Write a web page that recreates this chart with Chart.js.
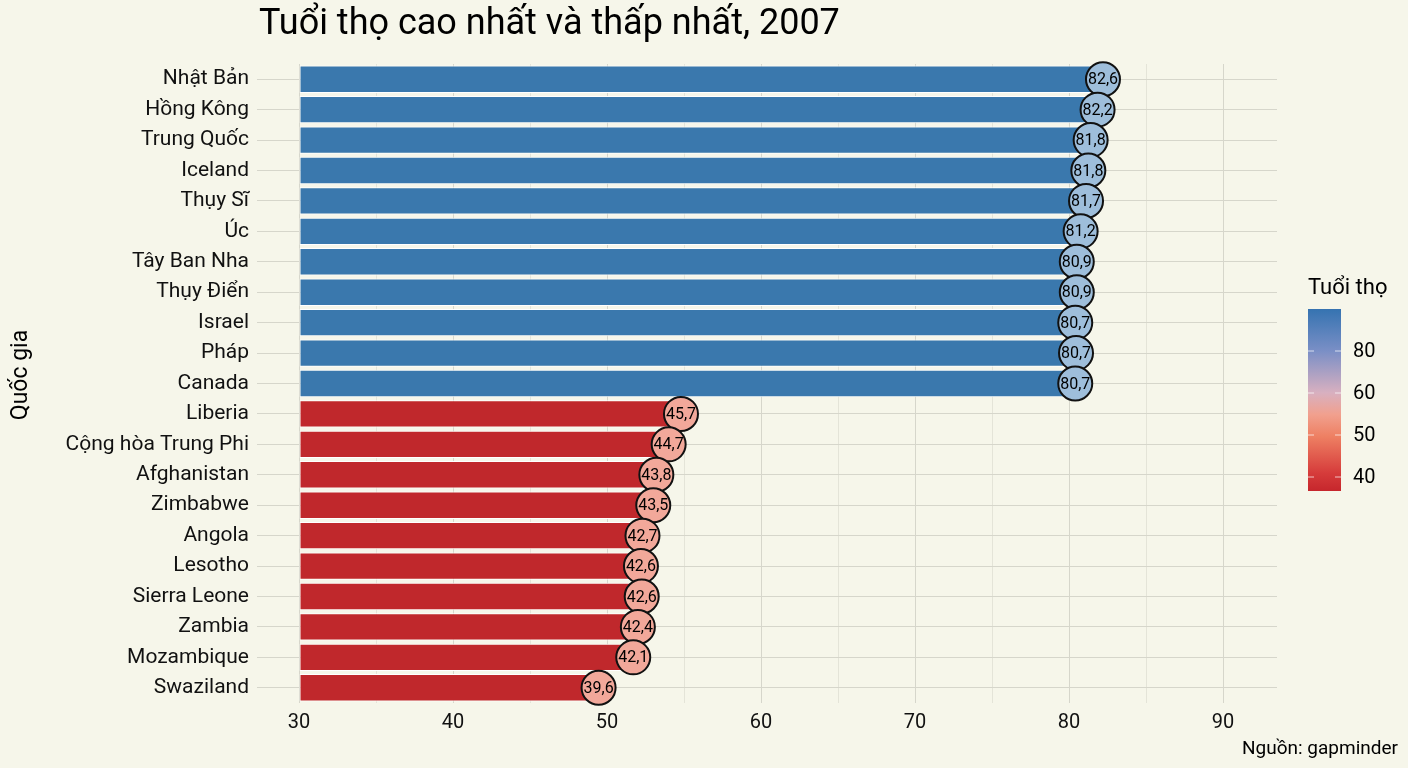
<!DOCTYPE html>
<html lang="vi">
<head>
    <meta charset="UTF-8">
    <title>Tuổi thọ cao nhất và thấp nhất, 2007</title>
    <script src="https://cdn.jsdelivr.net/npm/chart.js"></script>
    <style>
        body {
            margin: 0;
            padding: 0;
            background-color: #f6f6ea;
        }
        canvas {
            display: block;
        }
    </style>
</head>
<body>

<canvas id="lifeChart" width="1408" height="768"></canvas>

<script>
    // Dữ liệu
    var countries = ['Nhật Bản', 'Hồng Kông', 'Trung Quốc', 'Iceland', 'Thụy Sĩ', 'Úc', 'Tây Ban Nha',
        'Thụy Điển', 'Israel', 'Pháp', 'Canada', 'Liberia', 'Cộng hòa Trung Phi', 'Afghanistan',
        'Zimbabwe', 'Angola', 'Lesotho', 'Sierra Leone', 'Zambia', 'Mozambique', 'Swaziland'];
    // giá trị in trong vòng tròn
    var lifeExp = [82.6, 82.2, 81.8, 81.8, 81.7, 81.2, 80.9, 80.9, 80.7, 80.7, 80.7,
        45.7, 44.7, 43.8, 43.5, 42.7, 42.6, 42.6, 42.4, 42.1, 39.6];
    // chỗ thanh kết thúc trên trục như trong hình
    var barEnd = [82.2, 81.85, 81.4, 81.25, 81.1, 80.75, 80.5, 80.5, 80.4, 80.45, 80.4,
        54.8, 54.0, 53.2, 53.0, 52.3, 52.2, 52.25, 52.0, 51.7, 49.45];
    var xTicks = [30, 40, 50, 60, 70, 80, 90];
    var legendTicks = [40, 50, 60, 80];

    var BLUE = '#3a78ad', RED = '#c0282c';
    var BLUE_PT = '#9ebedb', RED_PT = '#f2a89a';
    var FONT = 'Roboto, "Noto Sans", sans-serif';

    // lưới: vạch chính + vạch phụ ở giữa
    var gridValues = [];
    xTicks.forEach(function (v, i) {
        gridValues.push(v);
        if (i < xTicks.length - 1) gridValues.push((v + xTicks[i + 1]) / 2);
    });

    var extras = {
        id: 'extras',
        afterDatasetsDraw: function (chart) {
            var ctx = chart.ctx;
            var meta = chart.getDatasetMeta(1);
            ctx.save();
            ctx.fillStyle = '#000';
            ctx.font = '16px ' + FONT;
            ctx.textAlign = 'center';
            ctx.textBaseline = 'middle';
            meta.data.forEach(function (pt, i) {
                ctx.fillText(lifeExp[i].toFixed(1).replace('.', ','), pt.x, pt.y + 1);
            });
            ctx.restore();
        },
        afterDraw: function (chart) {
            var ctx = chart.ctx;
            var area = chart.chartArea;
            ctx.save();
            ctx.fillStyle = '#000';

            // tiêu đề
            ctx.font = '36px ' + FONT;
            ctx.textAlign = 'left';
            ctx.textBaseline = 'middle';
            ctx.fillText('Tuổi thọ cao nhất và thấp nhất, 2007', area.left + 2, 25);

            // tên trục y
            ctx.save();
            ctx.translate(21, 375);
            ctx.rotate(-Math.PI / 2);
            ctx.font = '23px ' + FONT;
            ctx.textAlign = 'center';
            ctx.fillText('Quốc gia', 0, 0);
            ctx.restore();

            // nguồn
            ctx.font = '19px ' + FONT;
            ctx.textAlign = 'right';
            ctx.fillText('Nguồn: gapminder', 1398, 749);

            // chú giải màu
            var lx = 1308, lw = 33, top = 309, bottom = 491;
            var grad = ctx.createLinearGradient(0, top, 0, bottom);
            grad.addColorStop(0, '#3573b1');
            grad.addColorStop(0.23, '#7a8fc6');
            grad.addColorStop(0.46, '#d8b0c0');
            grad.addColorStop(0.58, '#f1a08e');
            grad.addColorStop(0.70, '#ee8063');
            grad.addColorStop(0.90, '#d63c3b');
            grad.addColorStop(1, '#c6262c');
            ctx.fillStyle = grad;
            ctx.fillRect(lx, top, lw, bottom - top);

            ctx.font = '22px ' + FONT;
            ctx.textAlign = 'left';
            ctx.fillStyle = '#000';
            ctx.fillText('Tuổi thọ', lx, 288);

            // 40..60 dày hơn, 60..80 thưa hơn
            function legendY(v) {
                return v <= 60 ? 393 + (60 - v) * 4.2 : 393 - (v - 60) * 2.1;
            }
            ctx.font = '20px ' + FONT;
            legendTicks.forEach(function (v) {
                var y = legendY(v);
                ctx.strokeStyle = 'rgba(255,255,255,0.7)';
                ctx.lineWidth = 1;
                ctx.beginPath();
                ctx.moveTo(lx, y); ctx.lineTo(lx + 6, y);
                ctx.moveTo(lx + lw - 6, y); ctx.lineTo(lx + lw, y);
                ctx.stroke();
                ctx.fillStyle = '#000';
                ctx.fillText(String(v), lx + 45, y + 1);
            });
            ctx.restore();
        }
    };

    var ctx = document.getElementById('lifeChart').getContext('2d');
    var lifeChart = new Chart(ctx, {
        type: 'bar',
        data: {
            labels: countries,
            datasets: [{
                type: 'bar',
                label: 'Tuổi thọ',
                data: barEnd,
                base: 30,
                backgroundColor: lifeExp.map(function (v) { return v > 60 ? BLUE : RED; }),
                borderColor: '#ffffff',
                borderWidth: 1,
                borderSkipped: false,
                barPercentage: 0.9,
                categoryPercentage: 1,
                order: 2
            }, {
                type: 'line',
                label: 'Nhãn',
                data: countries.map(function (c, i) { return {x: barEnd[i], y: c}; }),
                showLine: false,
                pointRadius: 17,
                pointHoverRadius: 17,
                pointBackgroundColor: lifeExp.map(function (v) { return v > 60 ? BLUE_PT : RED_PT; }),
                pointBorderColor: '#111',
                pointBorderWidth: 2,
                pointHoverBorderWidth: 2,
                clip: false,
                order: 1
            }]
        },
        options: {
            indexAxis: 'y',
            responsive: false,
            animation: false,
            events: [],
            layout: {
                padding: {left: 0, right: 131, top: 64, bottom: 0}
            },
            scales: {
                x: {
                    type: 'linear',
                    min: 27.27,
                    max: 93.5,
                    afterBuildTicks: function (scale) {
                        scale.ticks = gridValues.map(function (v) { return {value: v}; });
                    },
                    afterFit: function (scale) { scale.height = 65; },
                    border: {display: false},
                    grid: {
                        drawTicks: false,
                        color: function (c) {
                            return c.tick && c.tick.value % 10 === 0 ? '#d6d6cb' : '#e4e4d8';
                        },
                        lineWidth: 1
                    },
                    ticks: {
                        autoSkip: false,
                        maxRotation: 0,
                        padding: 8,
                        color: '#111',
                        font: {family: FONT, size: 20},
                        callback: function (v) { return xTicks.indexOf(v) >= 0 ? v : ''; }
                    }
                },
                y: {
                    type: 'category',
                    offset: true,
                    afterFit: function (scale) { scale.width = 257; },
                    border: {display: false},
                    grid: {
                        offset: false,
                        drawTicks: false,
                        color: '#d6d6cb',
                        lineWidth: 1
                    },
                    ticks: {
                        padding: 8,
                        color: '#111',
                        font: {family: FONT, size: 21}
                    }
                }
            },
            plugins: {
                legend: {display: false},
                title: {display: false},
                tooltip: {enabled: false}
            }
        },
        plugins: [extras]
    });
</script>
</body>
</html>
